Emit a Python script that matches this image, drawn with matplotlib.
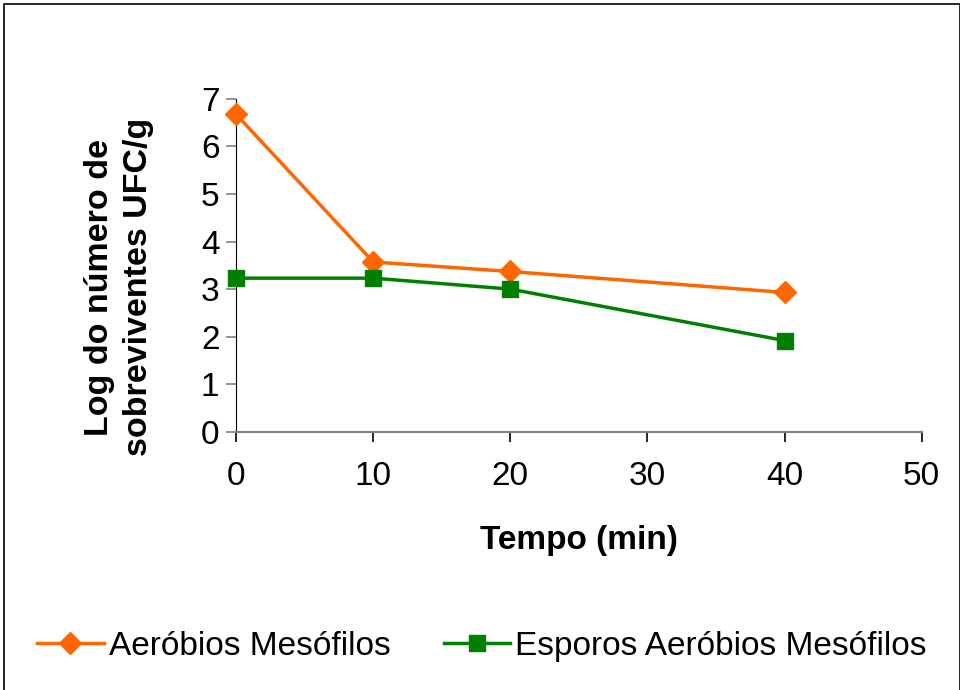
import matplotlib.pyplot as plt
from matplotlib.patches import Rectangle

plt.rcParams['font.family'] = ['Liberation Sans', 'DejaVu Sans']

tempo = [0, 10, 20, 40]
aerobios = [6.67, 3.57, 3.37, 2.93]
esporos = [3.23, 3.23, 3.0, 1.92]

fig = plt.figure(figsize=(9.6, 6.9), dpi=100)
ax = fig.add_axes([0.246, 0.374, 0.714, 0.483])

ax.plot(tempo, aerobios, color='#ff6600', lw=2.5, marker='D', ms=11,
        label='Aeróbios Mesófilos', clip_on=False, zorder=3)
ax.plot(tempo, esporos, color='#008000', lw=2.5, marker='s', ms=12,
        label='Esporos Aeróbios Mesófilos', clip_on=False, zorder=3)

ax.set_xlim(0, 50)
ax.set_ylim(0, 7)
ax.set_xticks(range(0, 51, 10))
ax.set_yticks(range(0, 8))
ax.spines['top'].set_visible(False)
ax.spines['right'].set_visible(False)
ax.spines['left'].set_color('black')
ax.spines['bottom'].set_color('#808080')
ax.spines['bottom'].set_linewidth(1.5)
ax.tick_params(axis='y', colors='#808080', labelcolor='black', labelsize=24,
               length=7, width=1.2, pad=5)
ax.tick_params(axis='x', colors='black', labelcolor='black', labelsize=24,
               length=7, width=1.2, pad=14)

ax.set_xlabel('Tempo (min)', fontsize=24, fontweight='bold', labelpad=24)
# y title placed by hand, a bit below the axes centre
fig.text(0.124, 0.584, 'Log do número de\nsobreviventes UFC/g', fontsize=24.5,
         fontweight='bold', rotation=90, ha='center', va='center',
         multialignment='center', linespacing=1.3)

fig.legend(loc='center', bbox_to_anchor=(0.502, 0.063), ncol=2, frameon=False,
           fontsize=24, handlelength=2.0, handletextpad=0.15, columnspacing=1.6)

# frame around the whole figure
fig.patches.append(Rectangle((0.004, -0.01), 0.996, 1.004, transform=fig.transFigure,
                             fill=False, edgecolor='black', lw=1.2))

fig.savefig('out.png', dpi=100)
